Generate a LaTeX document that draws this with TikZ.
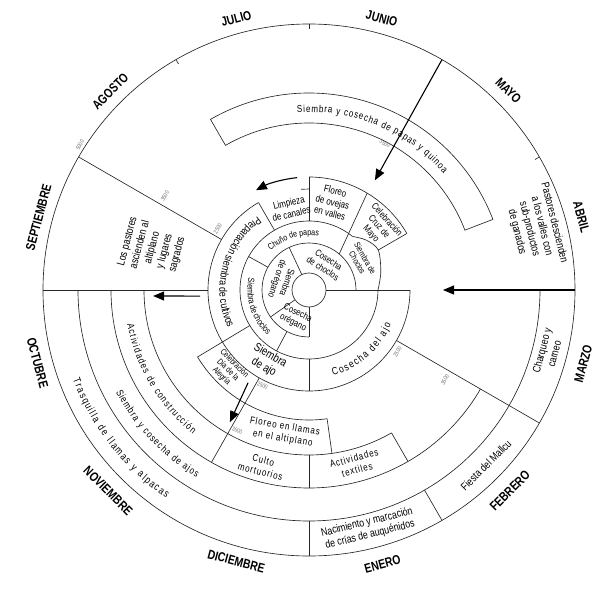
\documentclass[tikz,border=0pt]{standalone}
\usepackage{fontspec}
\setmainfont{Liberation Sans}[FakeStretch=0.8]
\newfontfamily\spacedfont{Liberation Sans}[FakeStretch=0.8,LetterSpace=9]
\usetikzlibrary{decorations.text,arrows.meta}
\newcommand{\ringarc}[3]{\draw[ring] (#2:#1pt) arc[start angle=#2,end angle=#3,radius=#1pt];}
\newcommand{\radline}[3]{\draw[ring] (#1:#2pt) -- (#1:#3pt);}
\newcommand{\arctext}[5]{\path[decorate,decoration={text along path,text align=center,text={|#5|#4}}] (#1:#3pt) arc[start angle=#1,end angle=#2,radius=#3pt];}
\begin{document}
\begin{tikzpicture}[x=1pt,y=1pt,
  ring/.style={draw=black!85,line width=0.65pt},
  arr/.style={draw=black,line width=1.1pt,-{Triangle[length=11pt,width=9pt]}},
  month/.style={font=\fontsize{13}{15}\selectfont\bfseries,inner sep=0pt},
  lbl/.style={font=\fontsize{11}{12.8}\selectfont,align=center,inner sep=0pt},
  mid/.style={font=\fontsize{9.5}{10.5}\selectfont,align=center,inner sep=0pt},
  sml/.style={font=\fontsize{8.5}{9}\selectfont,align=center,inner sep=0pt},
  spc/.style={font=\spacedfont\fontsize{10}{12}\selectfont,align=center,inner sep=0pt},
  elev/.style={font=\fontsize{6}{7}\selectfont,text=black!55,inner sep=0pt}]
\useasboundingbox (-309,-299) rectangle (288,290);

% ---- circles and arcs
\draw[ring] (0,0) circle[radius=17pt];
\ringarc{69}{51}{360}
\draw[ring] plot[smooth] coordinates {(0:69pt) (14:74pt) (30:80pt) (41:76pt) (51:69pt)};
\draw[ring] (0,0) circle[radius=266pt];
\ringarc{47}{0}{270}
\ringarc{101}{120}{360}
\ringarc{113}{30}{90}
\ringarc{130}{211}{278}
\ringarc{165}{180}{300}
\ringarc{198}{180}{330}
\ringarc{231}{180}{360}

% ---- radial lines
\radline{0}{17}{101}
\radline{180}{101}{266}
\radline{115}{17}{47}
\radline{215}{17}{47}
\radline{270}{17}{47}
\radline{242}{47}{69}
\radline{151}{47}{69}
\draw[ring] (50:47pt) -- (59:113pt);
\radline{30}{80}{113}
\radline{90}{69}{113}
\draw[ring] (90:101pt) -- (94.5:101pt);
\radline{120}{69}{101}
\radline{211}{69}{130}
\radline{270}{69}{101}
\radline{150}{101}{266}
\radline{330}{101}{266}
\radline{240.5}{101}{198}
\radline{278}{130}{165}
\radline{270}{165}{198}
\radline{300}{165}{198}
\radline{270}{231}{266}
\radline{300}{231}{266}
\radline{30}{261}{266}
\radline{90}{261}{266}
\radline{120}{261}{266}

% ---- papas y quinoa band
\draw[ring] (21:167pt) arc[start angle=21,end angle=120,radius=167pt] -- (120:197pt) arc[start angle=120,end angle=21,radius=197pt] -- cycle;

% ---- arrows
\coordinate (rA) at (0:266pt);   \coordinate (rB) at (0:134pt);
\coordinate (uA) at (60:266pt);  \coordinate (uB) at (59:128pt);
\coordinate (lA) at (183.2:109pt); \coordinate (lB) at (182.2:156pt);
\coordinate (dA) at (236.7:111pt); \coordinate (dB) at (239.1:154pt);
\coordinate (cA) at (96:113pt);
\draw[arr] (rA) -- (rB);
\draw[arr] (uA) -- (uB);
\draw[arr] (lA) -- (lB);
\draw[arr] (dA) -- (dB);
\draw[arr] (cA) arc[start angle=96,end angle=118,radius=113pt];

% ---- months
\node[month,rotate=-75] (abril) at (15:282pt) {ABRIL};
\node[month,rotate=-45] (mayo) at (45:282pt) {MAYO};
\node[month,rotate=-15] (junio) at (75:281pt) {JUNIO};
\node[month,rotate=15] (julio) at (105:281pt) {JULIO};
\node[month,rotate=45] (agosto) at (135:281pt) {AGOSTO};
\node[month,rotate=75] (sept) at (165:280pt) {SEPTIEMBRE};
\node[month,rotate=-75] (oct) at (195:281pt) {OCTUBRE};
\node[month,rotate=-45] (nov) at (225:284pt) {NOVIEMBRE};
\node[month,rotate=-15] (dic) at (255:281pt) {DICIEMBRE};
\node[month,rotate=15] (ene) at (285:284pt) {ENERO};
\node[month,rotate=45] (feb) at (315:284pt) {FEBRERO};
\node[month,rotate=75] (mar) at (345:284pt) {MARZO};

% ---- outer texts
\node[lbl,rotate=-76] (desc) at (15.4:235pt) {Pastores descienden\\a los valles con\\sub-productos\\de ganados};
\node[lbl,rotate=75] (asc) at (165:162pt) {Los pastores\\ascienden al\\altiplano\\y lugares\\sagrados};
\node[lbl,rotate=75] (charq) at (-14.6:247pt) {Charqueo y\\carneo};
\node[lbl,rotate=45] (mallcu) at (-44.7:249pt) {Fiesta del Mallcu};
\node[lbl,rotate=14] (nacim) at (-76:246pt) {Nacimiento y marcación\\de crías de auquénidos};
\node[spc,rotate=-10] (florll) at (260:145pt) {Floreo en llamas\\en el altiplano};
\node[spc,rotate=-15] (culto) at (255:182pt) {Culto\\mortuorios};
\node[spc,rotate=15] (textil) at (285:180pt) {Actividades\\textiles};
\node[sml,rotate=-45] (alegria) at (224.6:114pt) {Celebración\\Día de la\\Alegría};

% ---- inner texts
\node[font=\fontsize{12}{13}\selectfont,align=center,inner sep=0pt,rotate=-30] (sajo) at (239.6:83pt) {Siembra\\de ajo};
\node[mid,rotate=-26] (corg) at (244:31pt) {Cosecha\\orégano};
\node[mid,rotate=-109] (sorg) at (161:29pt) {Siembra\\de orégano};
\node[mid,rotate=-33] (cchoc) at (57:31pt) {Cosecha\\de choclos};
\node[sml,rotate=-60] (schoc) at (29.5:60pt) {Siembra de\\Choclos};
\node[mid,rotate=-48] (cruz) at (42:94pt) {Celebración\\Cruz de\\Mayo};
\node[font=\fontsize{10}{11.5}\selectfont,align=center,inner sep=0pt,rotate=-14] (fovej) at (75:91pt) {Floreo\\de ovejas\\en valles};
\node[font=\fontsize{10}{11.5}\selectfont,align=center,inner sep=0pt,rotate=13] (limp) at (103:84pt) {Limpieza\\de canales};

% ---- elevation labels
\node[elev,rotate=60] (e5000) at (147.7:271pt) {5000};
\node[elev,rotate=60] (e3500a) at (146.9:172pt) {3500};
\node[elev,rotate=60] (e2500a) at (146:110pt) {2500};
\node[elev,rotate=60] (e2500b) at (-35:108pt) {2500};
\node[elev,rotate=60] (e3500b) at (-33.5:163pt) {3500};
\node[elev,rotate=-28] (e3500c) at (62.6:165pt) {3500};
\node[elev,rotate=-22] (e2500c) at (244:106pt) {2500};
\node[elev,rotate=-22] (e3500d) at (243:158pt) {3500};

% ---- texts along arcs
\arctext{117.5}{17.5}{178}{Siembra y cosecha de papas y quinoa}{\fontsize{10}{12}\selectfont\kern0.84pt}
\arctext{183}{253}{252.5}{Trasquilla de llamas y alpacas}{\fontsize{10.5}{12}\selectfont\kern1.4pt}
\arctext{188.3}{258.3}{218.5}{Siembra y cosecha de ajos}{\fontsize{10}{12}\selectfont\kern0.95pt}
\arctext{181}{240.4}{185}{Actividades de construcción}{\fontsize{10}{12}\selectfont\kern1.2pt}
\arctext{121}{209}{89.5}{Preparación siembra de cultivos}{\fontsize{11}{12}\selectfont}
\arctext{153}{243}{61.5}{Siembra de choclos}{\fontsize{9}{10}\selectfont}
\arctext{150}{64}{54.5}{Chuño de papas}{\fontsize{8.8}{10}\selectfont}
\arctext{-88}{-10}{89}{Cosecha del ajo}{\fontsize{10.5}{12}\selectfont\kern1.4pt}
\end{tikzpicture}
\end{document}
